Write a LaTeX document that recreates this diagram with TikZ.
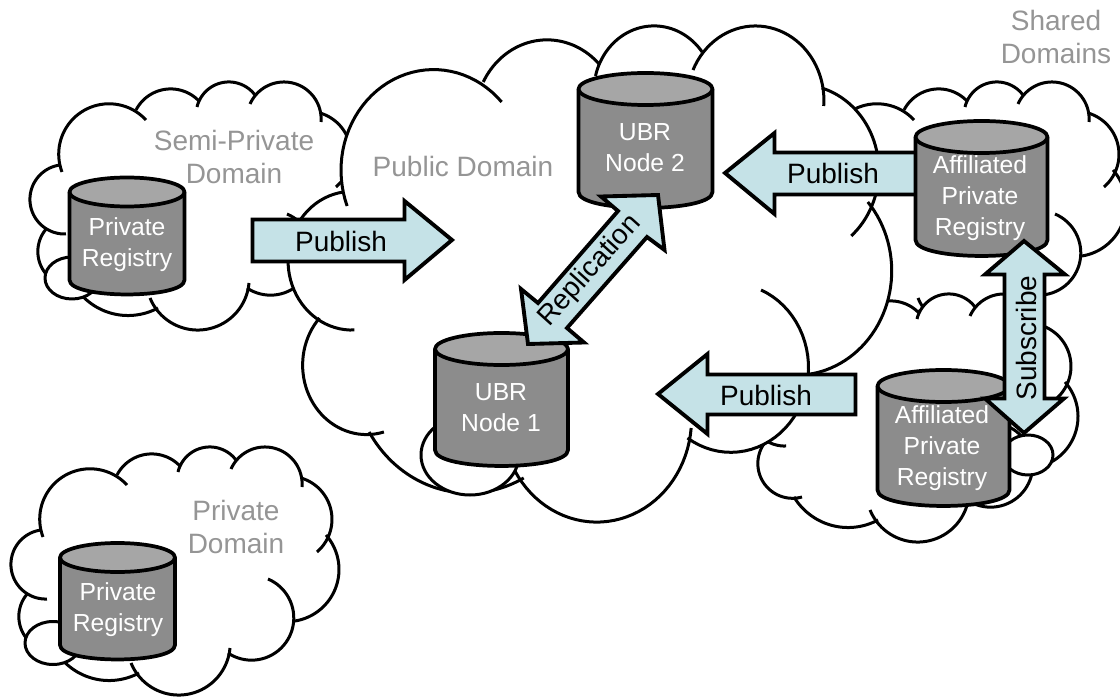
\documentclass[tikz,border=0pt]{standalone}
\usepackage{fontspec}
\setmainfont{Liberation Sans}
\definecolor{bodygray}{HTML}{8C8C8C}
\definecolor{topgray}{HTML}{A6A6A6}
\definecolor{labelgray}{HTML}{959595}
\definecolor{arrowfill}{HTML}{C5E2E7}
\tikzset{
  cloudline/.style={draw=black,line width=2.25pt,line cap=butt,line join=round},
  cylline/.style={draw=black,line width=2.8pt,line join=round},
  blockarrow/.style={draw=black,fill=arrowfill,line width=2.9pt,line join=miter,miter limit=10},
  smallbubble/.style={cloudline,fill=white},
  regtext/.style={text=white,align=center,inner sep=0pt,font=\fontsize{18.5}{23.25}\selectfont},
  arrowtext/.style={text=black,inner sep=0pt,font=\fontsize{21}{25}\selectfont},
  domaintext/.style={text=labelgray,align=center,inner sep=0pt,font=\fontsize{21}{25}\selectfont}
}
% circular arc through three points, given in px
\newcommand\carc[6]{%
  \pgfmathsetmacro\cAx{#1/100}\pgfmathsetmacro\cAy{#2/100}%
  \pgfmathsetmacro\cBx{#3/100}\pgfmathsetmacro\cBy{#4/100}%
  \pgfmathsetmacro\cCx{#5/100}\pgfmathsetmacro\cCy{#6/100}%
  \pgfmathsetmacro\cD{2*(\cAx*(\cBy-\cCy)+\cBx*(\cCy-\cAy)+\cCx*(\cAy-\cBy))}%
  \pgfmathsetmacro\cSa{\cAx*\cAx+\cAy*\cAy}%
  \pgfmathsetmacro\cSb{\cBx*\cBx+\cBy*\cBy}%
  \pgfmathsetmacro\cSc{\cCx*\cCx+\cCy*\cCy}%
  \pgfmathsetmacro\cOx{(\cSa*(\cBy-\cCy)+\cSb*(\cCy-\cAy)+\cSc*(\cAy-\cBy))/\cD}%
  \pgfmathsetmacro\cOy{(\cSa*(\cCx-\cBx)+\cSb*(\cAx-\cCx)+\cSc*(\cBx-\cAx))/\cD}%
  \pgfmathsetmacro\cRad{sqrt((\cAx-\cOx)*(\cAx-\cOx)+(\cAy-\cOy)*(\cAy-\cOy))}%
  \pgfmathsetmacro\cUa{atan2(\cAy-\cOy,\cAx-\cOx)}%
  \pgfmathsetmacro\cUb{atan2(\cBy-\cOy,\cBx-\cOx)}%
  \pgfmathsetmacro\cUc{atan2(\cCy-\cOy,\cCx-\cOx)}%
  \pgfmathsetmacro\cSm{mod(\cUb-\cUa+720,360)}%
  \pgfmathsetmacro\cSe{mod(\cUc-\cUa+720,360)}%
  \pgfmathsetmacro\cEnd{\cSm<\cSe ? \cUa+\cSe : \cUa+\cSe-360}%
  \path[cloudpen] plot[variable=\t,domain=\cUa:\cEnd,samples=40]
    ({100*\cOx+100*\cRad*cos(\t)},{100*\cOy+100*\cRad*sin(\t)});
}
\newcommand\cloudarcs{%
  \carc{62}{172}{80}{113}{146}{120}%
  \carc{136}{110}{168}{89}{199}{101}%
  \carc{197}{107}{227}{82}{255}{95}%
  \carc{250}{104}{285}{82}{321}{122}%
  \carc{320}{113}{351}{155}{336}{187}%
  \carc{345}{170}{358}{205}{314}{256}%
  \carc{287}{214}{311}{265}{247}{288}%
  \carc{249}{283}{200}{330}{150}{298}%
  \carc{158}{308}{120}{315}{74}{285}%
  \carc{82}{285}{38}{248}{47}{228}%
  \carc{66}{234}{30}{197}{60}{165}%
}
\newcommand\mycloud[1]{%
  \begin{scope}[#1]
    \tikzset{cloudpen/.style={fill=white,draw=white,line width=1.5pt}}
    \filldraw[white,line width=1.5pt] (62,172)--(138,110)--(199,101)--(254,95)--(321,115)--(347,172)--(314,256)--(247,288)--(150,298)--(74,285)--(47,228)--(66,234)--cycle;
    \cloudarcs
    \tikzset{cloudpen/.style={cloudline}}
    \cloudarcs
  \end{scope}
}
% cx, half width, top centre y, bottom side end y, ry
\newcommand\mycyl[5]{%
  \draw[cylline,fill=bodygray] (#1-#2,#3) -- (#1-#2,#4)
    .. controls (#1-#2,#4+#5*1.33) and (#1+#2,#4+#5*1.33) .. (#1+#2,#4)
    -- (#1+#2,#3) -- cycle;
  \draw[cylline,fill=topgray] (#1,#3) ellipse [x radius=#2,y radius=#5];
}
\begin{document}
\begin{tikzpicture}[x=0.75pt,y=-0.75pt]
\useasboundingbox (0,0) rectangle (1120,698);
\clip (0,0) rectangle (1120,698);
\fill[white] (0,0) rectangle (1120,698);

% clouds
\mycloud{shift={(0,0)}}
\draw[smallbubble] (72,278) ellipse [x radius=27,y radius=21];
\mycloud{shift={(-19,365)}}
\draw[smallbubble] (53,643) ellipse [x radius=28,y radius=21.5];
\mycloud{shift={(768,0)}}
\mycloud{shift={(720,212)}}
\draw[smallbubble] (1028,455) ellipse [x radius=25,y radius=20];
\mycloud{shift={(233,-138)},xscale=1.84,yscale=2}
\draw[smallbubble] (470,455) ellipse [x radius=49,y radius=40];

% domain labels
\node[domaintext] (shared) at (1056,37) {Shared\\Domains};
\node[domaintext] (semi) at (234,157) {Semi-Private\\Domain};
\node[domaintext] (public) at (463,166) {Public Domain};
\node[domaintext] (privdom) at (236,527) {Private\\Domain};

% publish arrow behind the upper registry
\draw[blockarrow] (725,173)--(774.5,133)--(774.5,152.5)--(920,152.5)--(920,194.5)--(774.5,194.5)--(774.5,214)--cycle;
\node[arrowtext] (pub2) at (833,173) {Publish};

% cylinders
\mycyl{127}{57.5}{192}{280}{14.5}
\node[regtext] (reg1) at (127,245) {Private\\Registry};
\mycyl{117.5}{57.5}{557.5}{645}{14.5}
\node[regtext] (reg2) at (118,610) {Private\\Registry};
\mycyl{645.5}{67}{89}{192}{16}
\node[regtext] (ubr2) at (645,148) {UBR\\Node 2};
\mycyl{501.5}{66.5}{349}{450}{16}
\node[regtext] (ubr1) at (501,408) {UBR\\Node 1};
\mycyl{981.5}{66}{137}{240}{16}
\node[regtext] (aff1) at (980,198) {Affiliated\\Private\\Registry};
\mycyl{943.5}{66}{386}{490}{16}
\node[regtext] (aff2) at (942,448) {Affiliated\\Private\\Registry};

% block arrows
\draw[blockarrow] (252.5,219.5)--(404.5,219.5)--(404.5,201)--(452,240)--(404.5,280)--(404.5,261.5)--(252.5,261.5)--cycle;
\node[arrowtext] (pub1) at (341,241) {Publish};
\draw[blockarrow] (658,394)--(707.5,354)--(707.5,374.5)--(855.5,374.5)--(855.5,414.5)--(707.5,414.5)--(707.5,434)--cycle;
\node[arrowtext] (pub3) at (766,395) {Publish};
\draw[blockarrow] (658,195)--(664.5,250)--(647,237)--(567,328)--(584,342.5)--(528,344)--(521,289)--(538,303)--(618,211)--(601,196.5)--cycle;
\node[arrowtext,rotate=48] (repl) at (590,271) {Replication};
\draw[blockarrow] (1024,241)--(1065,274.5)--(1044.5,274.5)--(1044.5,398.5)--(1064,398.5)--(1024,433)--(985,398.5)--(1004.5,398.5)--(1004.5,274.5)--(985,274.5)--cycle;
\node[arrowtext,rotate=90] (subs) at (1026,338) {Subscribe};
\end{tikzpicture}
\end{document}
